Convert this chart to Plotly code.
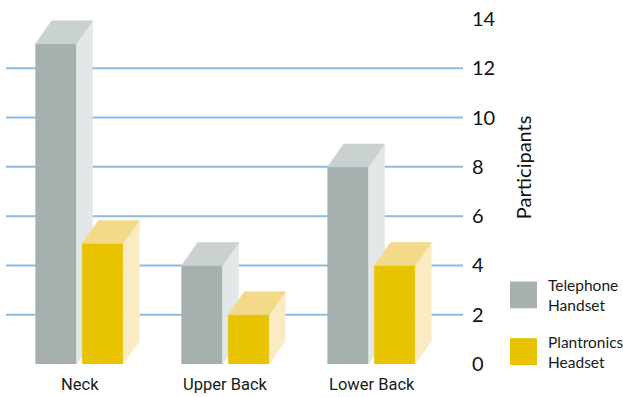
import plotly.graph_objects as go

categories = ["Neck", "Upper Back", "Lower Back"]
telephone = [13, 4, 8]
plantronics = [4.9, 2, 4]
series_names = ["Telephone<br>Handset", "Plantronics<br>Headset"]
y_ticks = [0, 2, 4, 6, 8, 10, 12, 14]
grid_vals = [2, 4, 6, 8, 10, 12]

W, H = 623, 397
ML, MR, MT, MB = 6, 160, 17, 33
PW, PH = W - ML - MR, H - MT - MB
XMIN = -0.5034
XMAX = XMIN + PW / 146.0
YMIN, YMAX = 0, 14

BAR_W = 0.28
OFFS = [-0.16, 0.16]
DX = 0.1096
DY = 0.927

styles = [
    dict(front="#A6B0AF", side="#E3E7E7", top="#CAD2D1"),
    dict(front="#E8C300", side="#FAEBC2", top="#F3D98A"),
]

def px2paper_x(px):
    return (px - ML) / PW

def px2paper_y(py):
    return (H - MB - py) / PH

fig = go.Figure()

def poly(xs, ys, color):
    fig.add_trace(go.Scatter(
        x=xs + [xs[0]], y=ys + [ys[0]], mode="lines", fill="toself",
        fillcolor=color, line=dict(color=color, width=0.6),
        hoverinfo="skip", showlegend=False))

for i, cat in enumerate(categories):
    for s, vals in enumerate([telephone, plantronics]):
        v = vals[i]
        xl = i + OFFS[s] - BAR_W / 2
        xr = i + OFFS[s] + BAR_W / 2
        st = styles[s]
        # front face
        poly([xl, xr, xr, xl], [0, 0, v, v], st["front"])
        # side face
        poly([xr, xr + DX, xr + DX, xr], [0, DY, v + DY, v], st["side"])
        # top face
        poly([xl, xr, xr + DX, xl + DX], [v, v, v + DY, v + DY], st["top"])

shapes = []
for g in grid_vals:
    shapes.append(dict(type="line", xref="paper", yref="y", x0=0, x1=1, y0=g, y1=g,
                       line=dict(color="#8DBAE2", width=2), layer="below"))

cat_font = dict(family="Roboto, Arial, sans-serif", size=16.5, color="#1a1a1a")
leg_font = dict(family="Lato, Roboto, sans-serif", size=15.5, color="#1a1a1a")
annotations = []
for i, cat in enumerate(categories):
    annotations.append(dict(x=i, y=0, xref="x", yref="paper", text=cat, showarrow=False,
                            yshift=-20, yanchor="middle", xanchor="center", font=cat_font))

# y axis title
annotations.append(dict(x=px2paper_x(523), y=px2paper_y(166), xref="paper", yref="paper",
                        text="Participants", textangle=-90, showarrow=False,
                        xanchor="center", yanchor="middle",
                        font=dict(family="Lato, Open Sans, sans-serif", size=20, color="#111")))

# legend
leg_colors = [styles[0]["front"], styles[1]["front"]]
leg_tops = [281, 338]
for name, col, top in zip(series_names, leg_colors, leg_tops):
    shapes.append(dict(type="rect", xref="paper", yref="paper",
                       x0=px2paper_x(510), x1=px2paper_x(537),
                       y0=px2paper_y(top + 27), y1=px2paper_y(top),
                       fillcolor=col, line=dict(width=0)))
    annotations.append(dict(x=px2paper_x(546), y=px2paper_y(top + 14), xref="paper", yref="paper",
                            text=name, showarrow=False, xanchor="left", yanchor="middle",
                            align="left", font=leg_font))

fig.update_layout(
    width=W, height=H,
    margin=dict(l=ML, r=MR, t=MT, b=MB),
    paper_bgcolor="white", plot_bgcolor="white",
    showlegend=False,
    xaxis=dict(range=[XMIN, XMAX], showgrid=False, zeroline=False, showticklabels=False,
               showline=False, fixedrange=True),
    yaxis=dict(range=[YMIN, YMAX], side="right", tickvals=y_ticks, showgrid=False,
               zeroline=False, showline=False, ticks="", ticklabelstandoff=8,
               tickfont=dict(family="Lato, Open Sans, sans-serif", size=20, color="#111")),
    shapes=shapes, annotations=annotations,
)

fig.write_html("out.html")
